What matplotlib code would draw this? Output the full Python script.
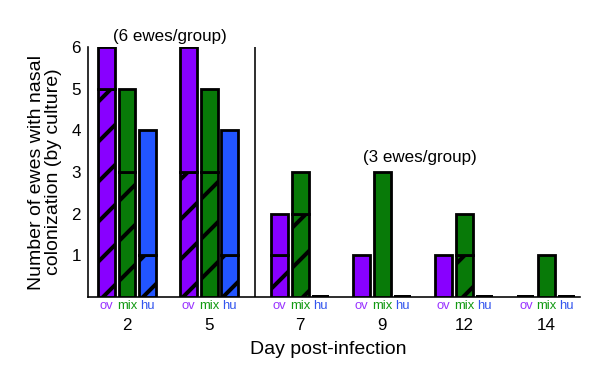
import matplotlib
matplotlib.use("Agg")
import matplotlib.pyplot as plt

# ---- data ----
days = ["2", "5", "7", "9", "12", "14"]
groups = ["ov", "mix", "hu"]
ov_total = [6, 6, 2, 1, 1, 0]
ov_hatched = [5, 3, 1, 0, 0, 0]
mix_total = [5, 5, 3, 3, 2, 1]
mix_hatched = [3, 3, 2, 0, 1, 0]
hu_total = [4, 4, 0, 0, 0, 0]
hu_hatched = [1, 1, 0, 0, 0, 0]

# ---- style ----
DPI = 240
PX = 72.0 / DPI  # points per pixel
plt.rcParams["font.family"] = ["Liberation Sans", "DejaVu Sans"]
plt.rcParams["hatch.linewidth"] = 4.0 * PX

bar_colors = ["#8800ff", "#087a08", "#2255ff"]
label_colors = ["#9933ff", "#119911", "#3355ee"]

centers = [0, 1, 2.11, 3.11, 4.11, 5.11]
offsets = [-0.25, 0.0, 0.25]
width = 0.205

fig = plt.figure(figsize=(600 / DPI, 373 / DPI), dpi=DPI)
ax = fig.add_axes([88 / 600, 1 - 297 / 373, (580 - 88) / 600, (297 - 47) / 373])

totals = [ov_total, mix_total, hu_total]
hatched = [ov_hatched, mix_hatched, hu_hatched]
lw = 2.8 * PX
for g in range(3):
    xs = [c + offsets[g] for c in centers]
    low = hatched[g]
    top = [t - h for t, h in zip(totals[g], low)]
    for x, h, t in zip(xs, low, top):
        if h > 0:
            ax.bar(x, h, width=width, color=bar_colors[g], edgecolor="black",
                   linewidth=lw, hatch="//", zorder=3)
        ax.bar(x, t, bottom=h, width=width, color=bar_colors[g],
               edgecolor="black", linewidth=lw if t + h > 0 else 4 * PX,
               zorder=3)
    for x in xs:
        ax.text(x, -0.08, groups[g], color=label_colors[g], ha="center",
                va="top", fontsize=13 * PX)

for c, d in zip(centers, days):
    ax.text(c, -0.5, d, ha="center", va="top", fontsize=17 * PX)

ax.set_xlim(-0.476, 5.52)
ax.set_ylim(0, 6)
ax.set_yticks([1, 2, 3, 4, 5, 6])
ax.tick_params(axis="y", length=0, labelsize=17 * PX, pad=7 * PX)
ax.set_xticks([])
for s in ["top", "right"]:
    ax.spines[s].set_visible(False)
ax.spines["left"].set_linewidth(1.6 * PX)
ax.spines["bottom"].set_linewidth(1.6 * PX)

ax.axvline(1.56, color="black", linewidth=1.6 * PX, zorder=2)

ax.text(0.52, 6.07, "(6 ewes/group)", ha="center", va="bottom", fontsize=17 * PX,
        clip_on=False)
ax.text(3.57, 3.17, "(3 ewes/group)", ha="center", va="bottom", fontsize=17 * PX)

ax.set_ylabel("Number of ewes with nasal\ncolonization (by culture)",
              fontsize=19.5 * PX, labelpad=9 * PX, linespacing=1.0)
fig.text(328 / 600, 1 - 349 / 373, "Day post-infection",
         ha="center", va="center", fontsize=19.5 * PX)

fig.savefig("out.png", dpi=DPI, facecolor="white")
